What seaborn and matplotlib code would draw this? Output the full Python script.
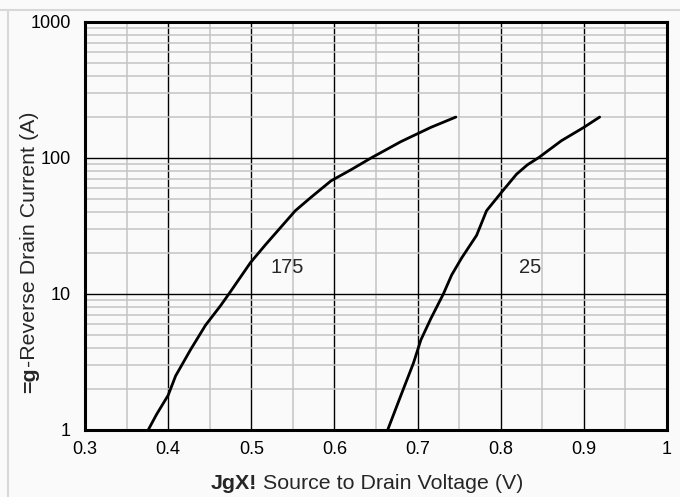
import numpy as np
import pandas as pd
import matplotlib
matplotlib.use("Agg")
import matplotlib.pyplot as plt
import matplotlib.ticker as mticker
from matplotlib.lines import Line2D
import seaborn as sns

# ---- data ----
vsd_175 = [0.376, 0.386, 0.400, 0.409, 0.427, 0.445, 0.463, 0.473, 0.499, 0.517,
           0.553, 0.572, 0.596, 0.620, 0.644, 0.680, 0.716, 0.746]
isd_175 = [1.0, 1.3, 1.8, 2.5, 3.9, 5.9, 8.2, 10.0, 17.0, 23.0,
           41.0, 51.5, 68.0, 82.0, 100.0, 132.0, 168.0, 200.0]

vsd_25 = [0.664, 0.680, 0.695, 0.704, 0.716, 0.731, 0.741, 0.753, 0.771, 0.783,
          0.801, 0.819, 0.832, 0.846, 0.873, 0.900, 0.919]
isd_25 = [1.0, 1.8, 3.1, 4.6, 6.6, 10.0, 13.8, 18.4, 27.0, 41.0,
          56.0, 76.0, 89.0, 101.0, 134.0, 168.0, 200.0]

series_labels = ["175", "25"]
label_pos_x = [0.543, 0.835]
label_pos_y = [15.7, 15.7]

x_ticks = [0.3, 0.4, 0.5, 0.6, 0.7, 0.8, 0.9, 1.0]
x_ticklabels = ["0.3", "0.4", "0.5", "0.6", "0.7", "0.8", "0.9", "1"]
y_ticks = [1, 10, 100, 1000]
y_ticklabels = ["1", "10", "100", "1000"]

xlabel_bold = "JgX!"
xlabel_rest = " Source to Drain Voltage (V)"
ylabel_bold = "=g"
ylabel_rest = "-Reverse Drain Current (A)"

df = pd.concat([
    pd.DataFrame({"V": vsd_175, "I": isd_175, "T": series_labels[0]}),
    pd.DataFrame({"V": vsd_25, "I": isd_25, "T": series_labels[1]}),
], ignore_index=True)

sns.set_style("white")
plt.rcParams["font.family"] = ["Liberation Sans", "DejaVu Sans"]

BG = "#fafafa"
W, H = 680, 497
fig = plt.figure(figsize=(W / 100, H / 100), dpi=100, facecolor=BG)
ax = fig.add_axes([85 / W, 1 - 430 / H, (667 - 85) / W, (430 - 22) / H])
ax.set_facecolor(BG)

sns.lineplot(data=df, x="V", y="I", hue="T", palette=["black", "black"],
             linewidth=2.0, legend=False, sort=False, estimator=None, ax=ax, zorder=5)

ax.set_yscale("log")
ax.set_xlim(0.3, 1.0)
ax.set_ylim(1, 1000)
ax.set_xticks(x_ticks)
ax.set_xticklabels(x_ticklabels)
ax.set_yticks(y_ticks)
ax.set_yticklabels(y_ticklabels)
ax.xaxis.set_minor_locator(mticker.MultipleLocator(0.05))
ax.yaxis.set_minor_locator(mticker.LogLocator(base=10, subs=np.arange(2, 10)))
ax.yaxis.set_minor_formatter(mticker.NullFormatter())
ax.tick_params(which="both", length=0, labelsize=13, colors="black")
ax.tick_params(axis="y", pad=10)
ax.tick_params(axis="x", pad=8)
ax.grid(which="minor", color="#c4c4c4", linewidth=1.1, zorder=1)
ax.grid(which="major", color="black", linewidth=1.0, zorder=2)
ax.set_axisbelow(True)
ax.set_xlabel("")
ax.set_ylabel("")
for s in ax.spines.values():
    s.set_visible(True)
    s.set_color("black")
    s.set_linewidth(2.2)
    s.set_zorder(6)

for lab, lx, ly in zip(series_labels, label_pos_x, label_pos_y):
    ax.text(lx, ly, lab, fontsize=14.5, ha="center", va="center", zorder=7)

# outer page lines
fig.add_artist(Line2D([0, 1], [1 - 10 / H, 1 - 10 / H], transform=fig.transFigure,
                      color="#d8d8d8", linewidth=1.5))
fig.add_artist(Line2D([8 / W, 8 / W], [0, 1 - 10 / H], transform=fig.transFigure,
                      color="#d8d8d8", linewidth=1.5))

# axis labels with mixed weight
fs_lab = 15.4
tb = fig.text(0, 0, xlabel_bold, fontsize=fs_lab, fontweight="bold", ha="left", va="baseline")
tr = fig.text(0, 0, xlabel_rest, fontsize=fs_lab, ha="left", va="baseline")
yb = fig.text(0, 0, ylabel_bold, fontsize=fs_lab, fontweight="bold", rotation=90,
              rotation_mode="anchor", ha="left", va="baseline")
yr = fig.text(0, 0, ylabel_rest, fontsize=fs_lab, rotation=90,
              rotation_mode="anchor", ha="left", va="baseline")
fig.canvas.draw()
r = fig.canvas.get_renderer()
wb = tb.get_window_extent(r).width
x0 = 211
base_y = H - 489
tb.set_position((x0 / W, base_y / H))
tr.set_position(((x0 + wb) / W, base_y / H))

hb = yb.get_window_extent(r).height
y0 = H - 393
base_x = 35
yb.set_position((base_x / W, y0 / H))
yr.set_position((base_x / W, (y0 + hb) / H))

fig.savefig("out.png", dpi=100, facecolor=BG)
